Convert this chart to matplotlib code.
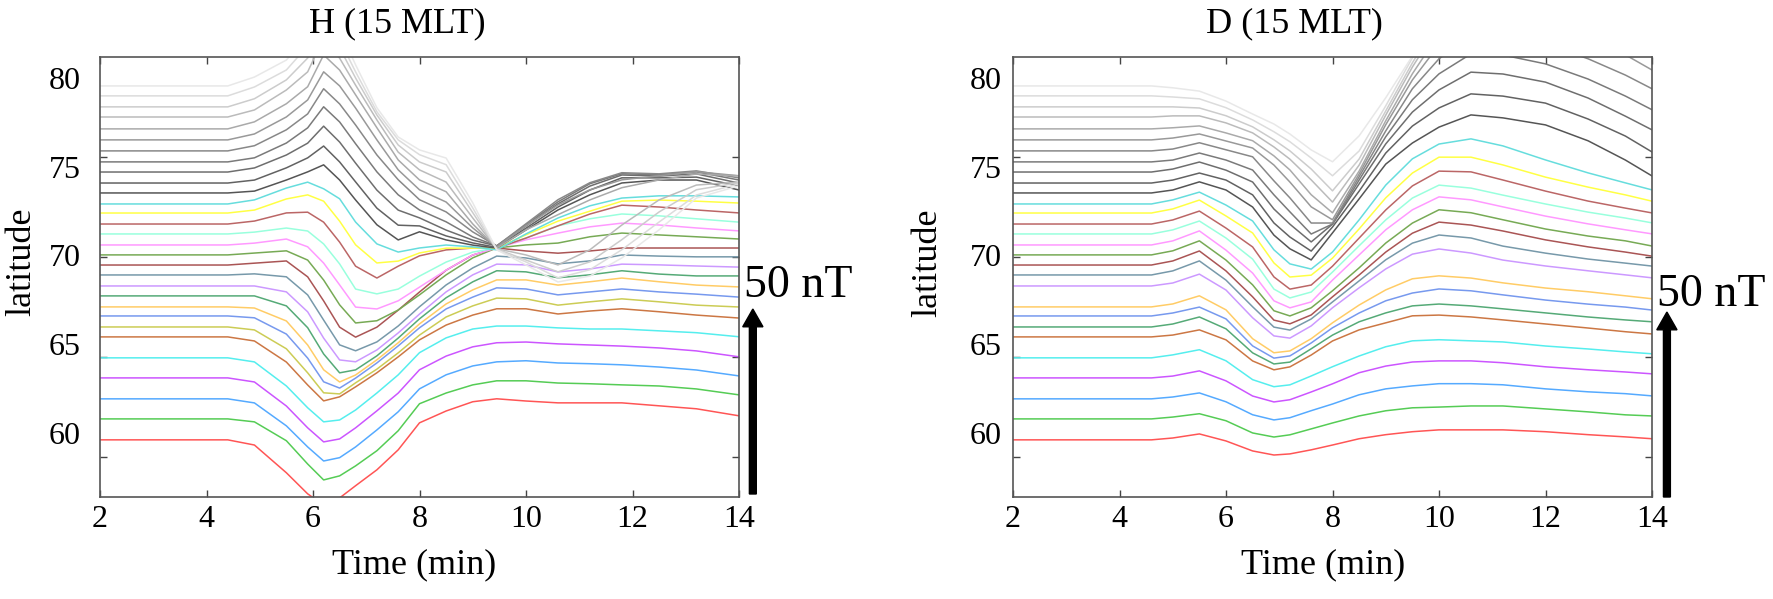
import matplotlib
matplotlib.use('Agg')
import matplotlib.pyplot as plt
import numpy as np

plt.rcParams['font.family'] = ['Liberation Serif', 'DejaVu Serif']

# station latitudes (baselines of the stacked traces), low to high
latitudes = [59.61, 60.79, 61.92, 63.10, 64.23, 65.41, 65.97, 66.59, 67.10, 67.72,
             68.28, 68.90, 69.46, 70.03, 70.59, 71.21, 71.77, 72.39, 72.90, 73.52,
             74.08, 74.70, 75.27, 75.89, 76.51, 77.13, 77.80, 78.37, 78.99, 79.55]

# H component, deflection in nT
t_h = [2, 4.4, 4.9, 5.5, 5.9, 6.2, 6.5, 6.8, 7.2, 7.6, 8.0, 8.5, 9.0, 9.45,
       10.0, 10.6, 11.2, 11.8, 12.5, 13.2, 14]
h_offsets = [
    [0, 0, -1.4, -8.9, -14.6, -17.6, -15.7, -12.4, -8.1, -2.7, 4.6, 7.8, 10.3, 11.1, 10.5, 10.0, 10.0, 10.0, 9.2, 8.4, 6.5],
    [0, 0, -0.8, -5.9, -12.2, -16.5, -15.4, -12.7, -8.6, -3.2, 4.1, 7.0, 9.2, 10.3, 10.3, 9.7, 9.5, 9.2, 8.9, 8.1, 6.5],
    [0, 0, -1.1, -7.3, -13.0, -16.8, -15.9, -13.0, -8.4, -3.5, 2.7, 6.5, 8.9, 10.0, 10.3, 9.7, 9.5, 9.2, 8.6, 7.8, 6.2],
    [0, 0, -1.1, -7.6, -13.5, -17.3, -16.5, -13.5, -8.9, -4.1, 2.2, 5.9, 8.4, 9.5, 9.7, 9.2, 8.9, 8.6, 8.1, 7.3, 5.7],
    [0, 0, -1.1, -7.6, -13.5, -17.3, -16.8, -14.1, -9.5, -4.6, 1.4, 5.4, 7.8, 8.6, 8.6, 8.1, 7.8, 7.8, 7.3, 6.8, 5.7],
    [0, 0, -1.1, -6.8, -13.0, -17.3, -16.2, -13.5, -9.7, -5.4, -0.8, 3.2, 5.9, 7.6, 7.6, 6.2, 7.0, 7.6, 6.8, 5.9, 5.1],
    [0, 0, -0.8, -5.9, -12.4, -17.8, -18.1, -15.1, -11.4, -7.0, -2.2, 2.7, 5.7, 7.8, 7.6, 5.9, 6.8, 7.6, 6.8, 5.9, 5.4],
    [0, 0, -0.5, -4.9, -11.4, -17.8, -19.5, -16.8, -12.7, -8.1, -3.2, 1.9, 5.1, 7.6, 7.3, 5.7, 6.5, 7.3, 6.5, 5.9, 5.1],
    [0, 0, -0.3, -3.8, -10.3, -17.0, -20.3, -18.4, -14.3, -9.7, -4.6, 0.8, 4.6, 7.3, 7.3, 5.9, 6.8, 7.8, 6.8, 5.9, 5.4],
    [0, 0, 0, -2.7, -8.6, -15.7, -20.8, -20.0, -16.2, -11.4, -6.2, -0.5, 3.8, 6.8, 6.5, 4.9, 5.7, 6.8, 5.9, 5.4, 5.4],
    [0, 0, 0, -1.6, -7.0, -14.1, -20.0, -20.5, -17.3, -12.7, -7.6, -1.6, 3.0, 5.9, 5.7, 3.8, 4.6, 5.9, 5.7, 5.4, 5.1],
    [0, 0, 0.3, -0.5, -5.4, -12.2, -18.9, -20.5, -18.1, -13.8, -8.6, -2.7, 1.9, 5.1, 4.6, 3.0, 3.8, 5.4, 5.1, 4.9, 4.9],
    [0, 0, 0.5, 1.1, -3.2, -9.7, -16.8, -19.5, -16.8, -12.2, -7.3, -1.4, 2.7, 4.6, 3.8, 3.2, 3.8, 4.6, 4.6, 4.6, 4.6],
    [0, 0, 0.5, 1.1, -1.4, -6.8, -13.5, -18.4, -17.8, -14.9, -10.8, -5.4, -0.8, 1.9, 2.7, 3.2, 4.9, 5.9, 5.4, 4.9, 4.3],
    [0, 0, 0.5, 1.6, -0.5, -4.9, -10.8, -16.8, -17.3, -15.1, -11.4, -6.8, -2.7, -0.8, 1.4, 3.2, 4.9, 5.9, 5.4, 4.6, 3.8],
    [0, 0, 0.5, 1.6, 0.8, -2.7, -8.1, -14.9, -16.2, -14.9, -11.4, -7.6, -4.9, -3.8, -1.1, 2.2, 4.1, 5.4, 4.9, 4.1, 3.2],
    [0, 0, 0.8, 3.0, 3.2, 0.5, -4.9, -11.4, -14.6, -11.4, -8.6, -7.0, -6.5, -6.5, -3.8, -0.5, 2.7, 5.1, 4.6, 3.8, 3.0],
    [0, 0, 0.8, 3.8, 4.9, 3.2, -2.2, -8.6, -13.5, -13.0, -10.8, -9.5, -9.5, -9.5, -5.9, -2.2, 0.5, 3.2, 3.5, 3.2, 2.7],
    [0, 0, 1.1, 4.3, 5.9, 4.1, 1.4, -4.9, -10.8, -13.0, -11.9, -11.1, -11.6, -12.4, -8.1, -3.8, -0.5, 1.6, 2.2, 2.2, 1.9],
    [0, 0, 0.5, 3.5, 5.7, 7.6, 3.5, -1.9, -8.6, -12.7, -10.5, -12.7, -14.1, -14.9, -10.0, -4.6, -0.5, 2.7, 3.5, 3.5, 0.8],
    [0, 0, 0.8, 4.1, 6.8, 10.0, 5.7, 0.3, -6.8, -11.4, -11.6, -14.3, -16.2, -17.4, -12.2, -6.5, -1.9, 1.4, 1.4, 1.6, -0.8],
    [0, 0, 1.1, 4.6, 7.8, 12.4, 8.1, 2.4, -4.9, -10.3, -12.4, -15.7, -18.4, -20.0, -14.6, -8.6, -3.8, -0.8, -1.1, -0.5, -3.0],
    [0, 0, 1.1, 5.1, 9.2, 14.9, 10.8, 4.9, -2.7, -8.9, -13.0, -16.2, -20.3, -22.7, -17.0, -10.8, -5.9, -3.2, -3.5, -2.7, -4.9],
    [0, 0, 1.4, 5.7, 10.0, 16.8, 12.7, 7.0, -1.1, -7.8, -13.2, -16.5, -21.9, -25.7, -19.7, -13.2, -8.6, -5.9, -6.2, -5.4, -7.3],
    [0, 0, 1.6, 6.2, 10.8, 18.4, 14.6, 8.6, 0.0, -8.1, -13.5, -16.8, -23.8, -29.0, -23.2, -17.6, -13.5, -10.8, -9.7, -8.6, -9.7],
    [0, 0, 1.9, 6.8, 11.4, 20.0, 15.9, 9.2, 0.3, -8.4, -13.8, -17.0, -25.7, -32.2, -27.3, -23.2, -19.2, -15.9, -13.8, -12.2, -12.7],
    [0, 0, 1.9, 7.3, 12.2, 21.4, 15.9, 8.6, -0.8, -9.5, -14.3, -17.6, -27.3, -35.6, -37.3, -40.0, -35.9, -29.2, -22.4, -18.4, -17.6],
    [0, 0, 2.2, 7.3, 13.2, 23.0, 15.9, 7.8, -2.2, -10.3, -14.9, -17.6, -28.6, -38.4, -41.4, -44.6, -41.9, -35.9, -28.4, -22.4, -20.5],
    [0, 0, 2.4, 7.0, 13.5, 23.8, 15.1, 6.5, -4.3, -11.9, -15.9, -18.6, -30.3, -41.6, -44.9, -49.2, -47.0, -41.6, -34.1, -26.8, -23.8],
    [0, 0, 2.4, 7.0, 13.8, 24.6, 15.1, 5.7, -5.9, -13.8, -17.3, -19.5, -31.6, -44.3, -48.4, -53.0, -51.4, -46.5, -38.9, -30.3, -27.0],
]

# D component, deflection in nT (station at 67.72 not shown)
d_latitudes = latitudes[:9] + latitudes[10:]
t_d = [2, 4.6, 5.0, 5.5, 6.0, 6.5, 6.9, 7.2, 7.6, 8.0, 8.5, 9.0, 9.5, 10.0,
       10.6, 11.2, 12.0, 12.8, 13.5, 14]
d_offsets = [
    [0, 0, 0.5, 1.6, -0.3, -3.0, -4.1, -3.8, -2.7, -1.4, 0.3, 1.4, 2.2, 2.7, 2.7, 2.7, 2.2, 1.4, 0.8, 0.3],
    [0, 0, 0.5, 1.4, -0.5, -3.8, -4.9, -4.3, -2.7, -1.1, 0.8, 2.2, 3.0, 3.2, 3.5, 3.5, 2.7, 1.9, 1.1, 0.8],
    [0, 0, 0.5, 1.6, -0.8, -4.3, -5.7, -5.1, -3.2, -1.4, 1.1, 2.7, 3.5, 4.1, 4.1, 3.8, 2.7, 1.9, 1.4, 0.8],
    [0, 0, 0.5, 1.9, -0.8, -4.9, -6.5, -5.9, -3.8, -1.6, 1.4, 3.2, 4.3, 4.6, 4.6, 4.1, 3.0, 2.2, 1.6, 1.1],
    [0, 0, 0.8, 2.2, -0.8, -5.9, -7.8, -7.3, -4.9, -2.4, 0.5, 3.0, 4.6, 4.9, 4.6, 4.3, 3.2, 2.4, 1.6, 1.1],
    [0, 0, 0.5, 1.9, -0.8, -6.5, -8.9, -8.1, -4.9, -1.1, 1.9, 3.8, 5.7, 5.9, 5.4, 4.6, 3.5, 2.4, 1.4, 0.8],
    [0, 0, 0.8, 2.7, -0.5, -7.0, -10.0, -9.5, -5.9, -2.2, 1.4, 3.8, 5.7, 6.2, 5.7, 4.9, 3.8, 2.7, 1.9, 1.4],
    [0, 0, 0.8, 2.4, -0.8, -8.1, -11.4, -10.8, -7.3, -3.2, 0.8, 4.1, 6.2, 7.3, 6.8, 5.7, 4.3, 3.2, 2.4, 1.6],
    [0, 0, 0.8, 3.0, -0.8, -8.6, -12.4, -11.9, -8.6, -4.3, 0.5, 4.6, 7.6, 8.4, 7.8, 6.5, 5.1, 4.1, 3.0, 2.2],
    [0, 0, 0.8, 3.2, -1.1, -8.6, -13.5, -14.1, -10.8, -5.9, -0.5, 4.6, 8.6, 10.0, 8.9, 7.0, 5.4, 4.1, 3.0, 2.2],
    [0, 0, 1.1, 3.8, -1.4, -8.6, -14.1, -14.9, -11.9, -7.3, -1.6, 4.1, 8.6, 10.8, 10.0, 7.8, 5.9, 4.3, 3.2, 2.4],
    [0, 0, 1.1, 3.8, -1.6, -8.6, -14.9, -15.9, -13.5, -8.6, -2.7, 3.5, 8.6, 11.6, 10.8, 9.2, 6.8, 4.9, 3.5, 2.4],
    [0, 0, 1.1, 3.8, -1.4, -8.1, -15.1, -16.5, -14.3, -9.7, -3.5, 3.2, 8.6, 12.2, 11.4, 9.5, 7.0, 5.1, 3.8, 2.4],
    [0, 0, 1.1, 3.8, -1.4, -7.6, -15.1, -17.0, -15.4, -9.5, -2.7, 4.1, 9.5, 13.0, 12.2, 10.3, 7.8, 5.7, 4.1, 3.0],
    [0, 0, 1.1, 3.5, -1.1, -6.8, -14.9, -17.3, -15.7, -10.3, -3.2, 3.8, 9.7, 13.2, 12.4, 10.5, 8.1, 5.9, 4.3, 3.0],
    [0, 0, 1.1, 3.5, -1.1, -6.2, -14.3, -17.6, -16.5, -11.4, -3.8, 3.8, 10.3, 14.3, 14.1, 11.9, 8.9, 6.2, 4.3, 3.0],
    [0, 0, 1.1, 3.5, -0.8, -5.4, -13.5, -17.3, -16.8, -12.2, -4.3, 4.1, 10.8, 15.1, 15.1, 13.0, 9.7, 7.0, 4.9, 3.2],
    [0, 0, 1.1, 3.2, -0.3, -4.6, -12.4, -16.2, -17.6, -13.0, -4.3, 5.1, 12.2, 16.2, 17.6, 15.7, 11.9, 8.4, 5.7, 3.8],
    [0, 0, 0.8, 3.0, 0.8, -3.8, -11.4, -15.1, -18.1, -10.8, -1.6, 7.8, 13.5, 17.8, 21.1, 20.3, 18.4, 14.1, 8.9, 4.6],
    [0, 0, 0.8, 2.7, 0.8, -3.2, -10.8, -14.6, -18.4, -11.9, -2.2, 8.1, 15.4, 20.3, 24.1, 23.5, 21.6, 17.3, 12.7, 8.4],
    [0, 0, 0.8, 2.7, 0.5, -2.7, -10.0, -14.1, -18.9, -14.1, -3.2, 7.6, 16.2, 22.2, 27.0, 26.5, 24.3, 20.0, 15.1, 11.4],
    [0, 0, 0.5, 2.4, 0.5, -2.2, -8.9, -13.5, -19.5, -16.8, -4.9, 6.8, 16.8, 23.8, 29.2, 28.9, 26.5, 22.4, 17.8, 14.1],
    [0, 0, 0.5, 2.2, 0.3, -1.6, -8.1, -12.7, -19.5, -19.5, -7.0, 5.4, 16.8, 24.9, 31.1, 31.4, 28.9, 24.9, 20.5, 16.8],
    [0, 0, 0.5, 1.6, -0.3, -2.2, -6.8, -11.4, -18.1, -21.6, -9.2, 4.1, 16.2, 25.7, 32.4, 33.0, 31.1, 27.0, 23.0, 18.9],
    [0, 0, 0.3, 0.8, -1.1, -3.2, -7.3, -11.1, -17.8, -22.7, -11.4, 2.2, 14.9, 25.7, 33.0, 34.6, 33.0, 29.2, 25.1, 21.1],
    [0, 0, 0.3, 0.3, -1.6, -4.3, -8.1, -11.4, -17.0, -23.0, -13.0, 0.5, 13.5, 24.9, 33.0, 35.7, 34.6, 31.1, 27.0, 23.2],
    [0, 0, 0, -0.3, -2.4, -5.4, -8.9, -11.9, -16.8, -22.7, -14.1, -1.1, 11.9, 23.8, 32.4, 36.5, 35.9, 32.4, 28.6, 24.9],
    [0, 0, -0.3, -0.8, -3.2, -6.5, -9.7, -12.4, -16.8, -21.6, -14.9, -2.7, 10.3, 22.7, 31.4, 36.8, 36.8, 33.8, 30.3, 26.5],
    [0, 0, -0.5, -1.4, -4.1, -7.6, -10.3, -13.0, -17.3, -20.5, -13.5, -3.2, 8.1, 21.1, 29.7, 36.8, 37.3, 34.6, 31.4, 27.6],
]

scale_nT = 50
deg_per_nT = 10.42 / scale_nT

grays = ['#555555', '#626262', '#6e6e6e', '#7a7a7a', '#888888', '#999999',
         '#aaaaaa', '#bbbbbb', '#cccccc', '#dcdcdc', '#e8e8e8']
h_colors = ['#ff5555', '#55cc55', '#55aaff', '#cc55ff', '#55eeee', '#cc7744',
            '#cccc55', '#7799ee', '#ffcc66', '#55aa77', '#cc99ff', '#7799aa',
            '#aa5555', '#77aa55', '#ff99ff', '#99ffdd', '#bb6666', '#ffff44',
            '#66dddd'] + grays
d_colors = ['#ff5555', '#55cc55', '#55aaff', '#cc55ff', '#55eeee', '#cc7744',
            '#55aa77', '#7799ee', '#ffcc66', '#cc99ff', '#7799aa', '#aa5555',
            '#77aa55', '#ff99ff', '#99ffdd', '#bb6666', '#ffff44', '#66dddd'] + grays

W, H = 1773, 599
fig = plt.figure(figsize=(W / 100, H / 100), dpi=100)


def px(x, y):
    return x / W, 1 - y / H


def panel(left, t, lats, offsets, colors, ypad):
    ax = fig.add_axes([left / W, 102 / H, 639 / W, 440 / H])
    for lat, off, c in zip(lats, offsets, colors):
        ax.plot(t, lat + deg_per_nT * np.array(off), color=c, lw=1.1)
    ax.set_xlim(2, 14)
    ax.set_ylim(56.39, 81.18)
    ax.set_xticks(range(2, 15, 2))
    ax.set_yticks([60, 65, 70, 75, 80])
    ax.set_yticks([58.65, 64.28, 69.92, 75.55], minor=True)
    ax.tick_params(axis='x', direction='in', top=True, length=5, width=1,
                   color='#444444', labelsize=23, pad=6)
    ax.tick_params(axis='y', which='major', length=0, labelsize=23, pad=ypad)
    ax.tick_params(axis='y', which='minor', direction='in', left=True,
                   right=True, length=5, width=1, color='#444444')
    for s in ax.spines.values():
        s.set_color('#555555')
        s.set_linewidth(1.2)
    return ax


ax1 = panel(100, t_h, latitudes, h_offsets, h_colors, 14)
ax2 = panel(1013, t_d, d_latitudes, d_offsets, d_colors, 8)

# 50 nT scale arrows
for ax, x0, y0 in [(ax1, 14.26, 56.56), (ax2, 14.28, 56.39)]:
    ax.arrow(x0, y0, 0, scale_nT * deg_per_nT, width=0.13, head_width=0.38,
             head_length=1.0, length_includes_head=True, fc='k', ec='k',
             clip_on=False)

fig.text(*px(744, 297), '50 nT', fontsize=33, ha='left', va='baseline')
fig.text(*px(1657, 306), '50 nT', fontsize=33, ha='left', va='baseline')

fig.text(*px(397, 24), 'H (15 MLT)', fontsize=26, ha='center', va='center')
fig.text(*px(1294, 24), 'D (15 MLT)', fontsize=26, ha='center', va='center')
fig.text(*px(22, 262), 'latitude', fontsize=26, rotation=90, ha='center', va='center')
fig.text(*px(928, 263), 'latitude', fontsize=26, rotation=90, ha='center', va='center')
fig.text(*px(414, 565), 'Time (min)', fontsize=26, ha='center', va='center')
fig.text(*px(1323, 565), 'Time (min)', fontsize=26, ha='center', va='center')

fig.savefig('out.png', dpi=100)
